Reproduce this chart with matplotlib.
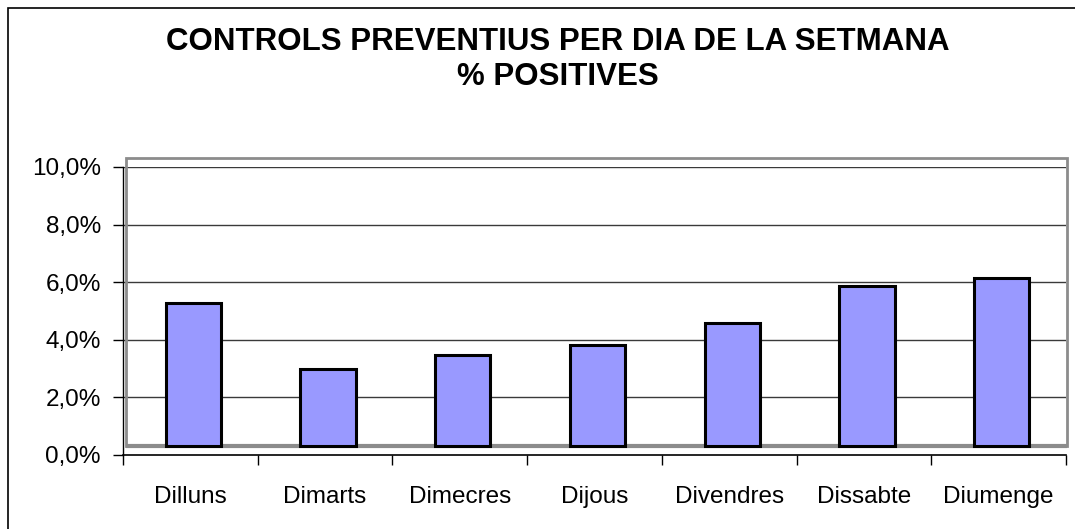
import matplotlib
matplotlib.use('Agg')
import matplotlib.pyplot as plt
from matplotlib.patches import Rectangle
from matplotlib.transforms import ScaledTranslation
from matplotlib.ticker import FuncFormatter

# data
dies = ['Dilluns', 'Dimarts', 'Dimecres', 'Dijous', 'Divendres', 'Dissabte', 'Diumenge']
positives = [4.97, 2.68, 3.17, 3.51, 4.28, 5.57, 5.84]  # % positives
y_ticks = [0, 2, 4, 6, 8, 10]

plt.rcParams['font.family'] = ['Liberation Sans', 'DejaVu Sans']

fig = plt.figure(figsize=(10.75, 5.29), dpi=100)
W, H = 1075, 529

# outer chart frame
fig.add_artist(Rectangle((8 / W, -0.01), 1.2, (529 - 8) / H + 0.01, transform=fig.transFigure,
                         fill=False, edgecolor='black', linewidth=1.2))

ax = fig.add_axes([123 / W, 74 / H, 943 / W, 288 / H])
ax.set_xlim(-0.5, len(dies) - 0.5)
ax.set_ylim(0, 10)

# depth offset of the back wall (old excel 3d look)
depth = ScaledTranslation(0.03, 0.09, fig.dpi_scale_trans)

# gridlines in front plane
for t in y_ticks[1:]:
    ax.axhline(t, color='#3a3a3a', linewidth=1.0, zorder=1)

# back wall
ax.add_patch(Rectangle((0, 0), 941 / 943, 1, transform=ax.transAxes + depth,
                       fill=False, edgecolor='#8c8c8c', linewidth=2.0, zorder=2, clip_on=False))
ax.plot([0, 941 / 943], [0, 0], transform=ax.transAxes + depth, color='#8c8c8c',
        linewidth=3.0, zorder=2, clip_on=False, solid_capstyle='butt')

x = list(range(len(dies)))
ax.bar(x, positives, width=0.41, color='#9999ff', edgecolor='black', linewidth=2.2,
       transform=ax.transData + depth, zorder=3, clip_on=False)

# axes
for s in ['top', 'right']:
    ax.spines[s].set_visible(False)
ax.spines['left'].set_linewidth(1.0)
ax.spines['bottom'].set_linewidth(1.2)
ax.set_yticks(y_ticks)
ax.yaxis.set_major_formatter(FuncFormatter(lambda v, p: f'{v:.1f}%'.replace('.', ',')))
ax.set_xticks([i - 0.5 for i in range(len(dies) + 1)])
ax.set_xticklabels([])
ax.set_xticks(x, minor=True)
ax.set_xticklabels(dies, minor=True)
ax.tick_params(axis='x', which='major', direction='out', length=7, width=1)
ax.tick_params(axis='x', which='minor', length=0, pad=22, labelsize=17.5)
ax.tick_params(axis='y', direction='out', length=7, width=1, pad=9, labelsize=17.5)

fig.text(558 / W, 1 - 42 / H, 'CONTROLS PREVENTIUS PER DIA DE LA SETMANA', ha='center', va='center',
         fontsize=22.5, fontweight='bold')
fig.text(558 / W, 1 - 77 / H, '% POSITIVES', ha='center', va='center',
         fontsize=22.5, fontweight='bold')

fig.savefig('out.png', dpi=100)
